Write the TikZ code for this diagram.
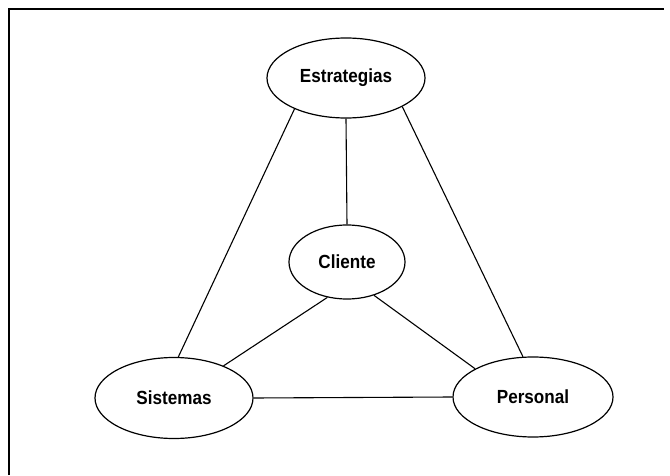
\documentclass[tikz,border=0pt]{standalone}
\usepackage{fontspec}
\setmainfont[FakeStretch=0.9]{Liberation Sans}
\usetikzlibrary{shapes.geometric}

\tikzset{
  ovalo/.style = {ellipse, draw, line width=1.2pt, inner sep=0pt,
    font=\fontsize{19}{22}\selectfont\bfseries},
  linea/.style = {line width=1.1pt}
}

\begin{document}
\begin{tikzpicture}[x=1pt, y=1pt]
\useasboundingbox (0,0) rectangle (670,475);
\draw[line width=1.3pt] (9,0) -- (9,466) -- (664,466);
\path (346,397) node[ovalo, minimum width=158pt, minimum height=80pt] (E) {Estrategias};
\path (347,213) node[ovalo, minimum width=116pt, minimum height=74pt] (C) {Cliente};
\path (174,77) node[ovalo, minimum width=158pt, minimum height=81pt] (S) {Sistemas};
\path (533,78) node[ovalo, minimum width=160pt, minimum height=80pt] (P) {Personal};
\draw[linea] (E.south) -- (C.north);
\draw[linea] (E.211) -- (S.84);
\draw[linea] (E.333) -- (P.104);
\draw[linea] (C.241) -- (S.33);
\draw[linea] (C.309) -- (P.154);
\draw[linea] (S.east) -- (P.west);
\end{tikzpicture}
\end{document}
